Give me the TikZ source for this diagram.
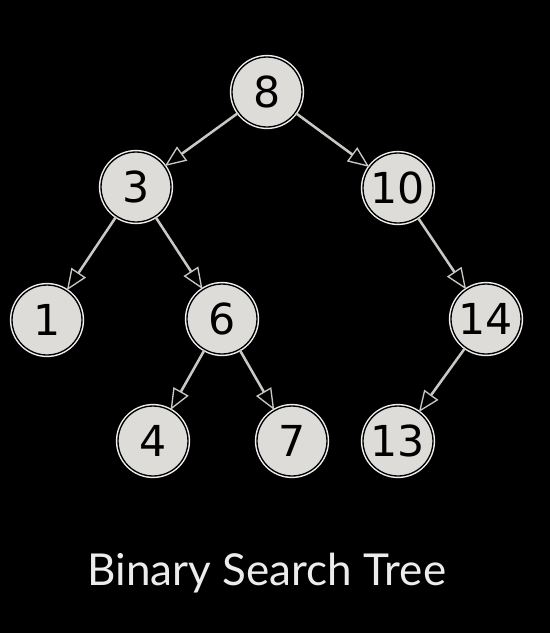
\documentclass[tikz,border=0pt]{standalone}
\usepackage{fontspec}
\usetikzlibrary{arrows.meta}
\newfontfamily\keyfont{DejaVu Sans}
\newfontfamily\titlefont{Lato}
\definecolor{keyfill}{RGB}{221,220,216}
\definecolor{edgegray}{RGB}{200,200,196}

\tikzset{every picture/.style={line width=0.75pt}}
\tikzset{
  keynode/.style={circle, draw=black, line width=1pt, fill=keyfill,
    preaction={draw=white!88!gray, line width=3.2pt},
    minimum size=52.5pt, inner sep=0pt, font=\keyfont\fontsize{32}{32}\selectfont},
  treeedge/.style={draw=edgegray, line width=1.9pt,
    -{Triangle[open, length=16pt, width=13pt, fill=black, line width=1pt]}}
}

\begin{document}
\begin{tikzpicture}[x=0.75pt,y=0.75pt,yscale=-1,xscale=1]
%set diagram left start at 0, and has height of 633
\fill[black] (0,0) rectangle (550,633);
\useasboundingbox (0,0) rectangle (550,633);

% Keys
\node [keynode] (k8) at (267,92) {8};
\node [keynode] (k3) at (136,187) {3};
\node [keynode] (k10) at (398,188) {10};
\node [keynode] (k1) at (47,320) {1};
\node [keynode] (k6) at (222,319) {6};
\node [keynode] (k14) at (486,319) {14};
\node [keynode] (k4) at (153,441) {4};
\node [keynode] (k7) at (292,441) {7};
\node [keynode] (k13) at (398,441) {13};

% Edges
\draw [treeedge] (k8) -- (k3);
\draw [treeedge] (k8) -- (k10);
\draw [treeedge] (k3) -- (k1);
\draw [treeedge] (k3) -- (k6);
\draw [treeedge] (k6) -- (k4);
\draw [treeedge] (k6) -- (k7);
\draw [treeedge] (k10) -- (k14);
\draw [treeedge] (k14) -- (k13);

% Text Node
\node [text=white!85!gray, font=\titlefont\fontsize{33}{33}\selectfont, anchor=base] (title) at (267,585) {Binary Search Tree};

\end{tikzpicture}
\end{document}
